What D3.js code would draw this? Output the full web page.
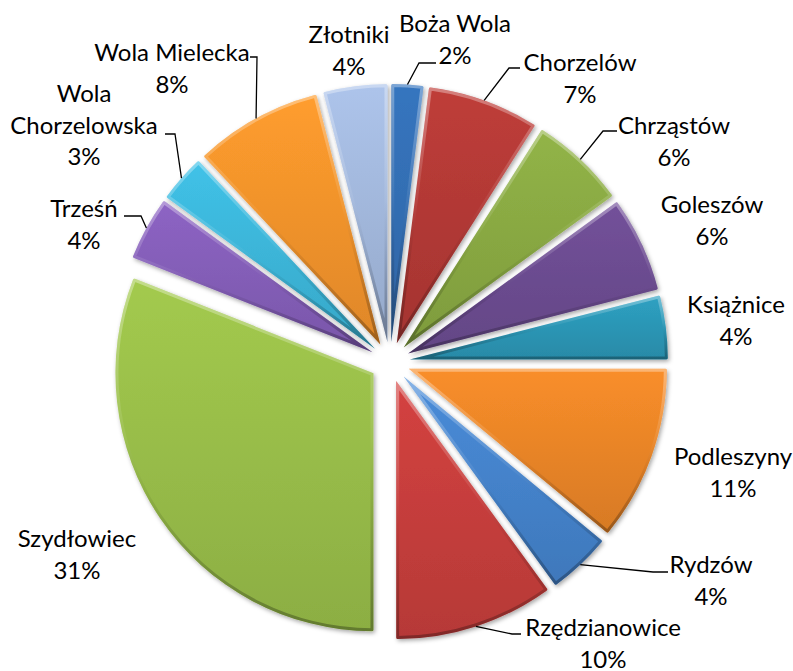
<!DOCTYPE html>
<html>
<head>
<meta charset="utf-8">
<script src="https://cdn.jsdelivr.net/npm/d3@7/dist/d3.min.js"></script>
<style>
  html, body { margin: 0; padding: 0; background: #fff; }
  svg { display: block; }
  .lbl { font-family: Lato, "Open Sans", sans-serif; font-size: 24px; fill: #000; }
</style>
</head>
<body>
<svg id="chart" width="793" height="671"></svg>
<script>
// data
const names  = ['Boża Wola', 'Chorzelów', 'Chrząstów', 'Goleszów', 'Książnice', 'Podleszyny', 'Rydzów',
                'Rzędzianowice', 'Szydłowiec', 'Trześń', 'Wola Chorzelowska', 'Wola Mielecka', 'Złotniki'];
const shares = [2, 7, 6, 6, 4, 11, 4, 10, 31, 4, 3, 8, 4];
const colors = ['#3470b7', '#b73a37', '#8cac44', '#6e4e94', '#2c9aba', '#ef8828', '#4686d0',
                '#cb3f3d', '#9cc24b', '#8760bc', '#3dbade', '#f8962c', '#a6bce1'];

// label layout (text centre x, first baseline) and leader elbows
const labelAt = [[455, 32], [580, 71], [674, 134], [712, 213], [736, 313], [733, 465], [711, 573],
                 [603, 636], [77, 547], [84, 217], [84, 102], [172, 61], [349, 43]];
const labelLines = { 9: ['Trześń'], 10: ['Wola', 'Chorzelowska'] };
const leaders = {
  0:  [[419, 63], [436, 63]],
  1:  [[509, 68], [520, 68]],
  2:  [[603, 131], [617, 131]],
  6:  [[653, 572], [668, 572]],
  7:  [[512, 634], [521, 634]],
  9:  [[141, 216], [124, 216]],
  10: [[175, 134], [165, 134]],
  11: [[257, 57], [250, 57]]
};

const cx = 390, cy = 362, R = 258, boom = 20;
const svg  = d3.select('#chart');
const defs = svg.append('defs');

const sh = defs.append('filter').attr('id', 'shadow').attr('x', '-20%').attr('y', '-20%').attr('width', '140%').attr('height', '140%');
sh.append('feDropShadow').attr('dx', 1.5).attr('dy', 2).attr('stdDeviation', 2)
  .attr('flood-color', '#000').attr('flood-opacity', 0.35);

const bev = defs.append('linearGradient').attr('id', 'bevel').attr('x1', 0).attr('y1', 0).attr('x2', 0).attr('y2', 1);
[[0, '#fff', 0.35], [0.45, '#fff', 0.06], [0.6, '#000', 0.05], [1, '#000', 0.3]].forEach(([o, c, a]) =>
  bev.append('stop').attr('offset', o).attr('stop-color', c).attr('stop-opacity', a));

const pie  = d3.pie().sort(null).value(d => d);
const arc  = d3.arc().innerRadius(0).outerRadius(R).cornerRadius(1.5);
const arcs = pie(shares);

const g = svg.append('g').attr('transform', `translate(${cx},${cy})`);

arcs.forEach((a, i) => {
  const mid = (a.startAngle + a.endAngle) / 2;
  const c = d3.color(colors[i]);
  const gr = defs.append('linearGradient').attr('id', 'fill' + i).attr('x1', 0).attr('y1', 0).attr('x2', 0).attr('y2', 1);
  gr.append('stop').attr('offset', 0).attr('stop-color', c.brighter(0.12));
  gr.append('stop').attr('offset', 1).attr('stop-color', c.darker(0.3));

  defs.append('clipPath').attr('id', 'clip' + i).append('path').attr('d', arc(a));

  const sg = g.append('g')
    .attr('transform', `translate(${Math.sin(mid) * boom},${-Math.cos(mid) * boom})`);
  sg.append('path').attr('d', arc(a)).attr('fill', `url(#fill${i})`).attr('filter', 'url(#shadow)');
  sg.append('path').attr('d', arc(a)).attr('fill', 'none')
    .attr('stroke', 'url(#bevel)').attr('stroke-width', 6).attr('clip-path', `url(#clip${i})`);
});

// leader lines
const line = d3.line();
arcs.forEach((a, i) => {
  if (!leaders[i]) return;
  const mid = (a.startAngle + a.endAngle) / 2;
  const p0 = [cx + Math.sin(mid) * (R + boom), cy - Math.cos(mid) * (R + boom)];
  svg.append('path').attr('d', line([p0, ...leaders[i]]))
    .attr('fill', 'none').attr('stroke', '#000').attr('stroke-width', 1.3);
});

// labels
arcs.forEach((a, i) => {
  const rows = [...(labelLines[i] || [names[i]]), `${Math.round(a.data)}%`];
  const t = svg.append('text').attr('class', 'lbl').attr('text-anchor', 'middle');
  rows.forEach((r, k) => t.append('tspan').attr('x', labelAt[i][0]).attr('y', labelAt[i][1] + k * 31.5).text(r));
});
</script>
</body>
</html>
